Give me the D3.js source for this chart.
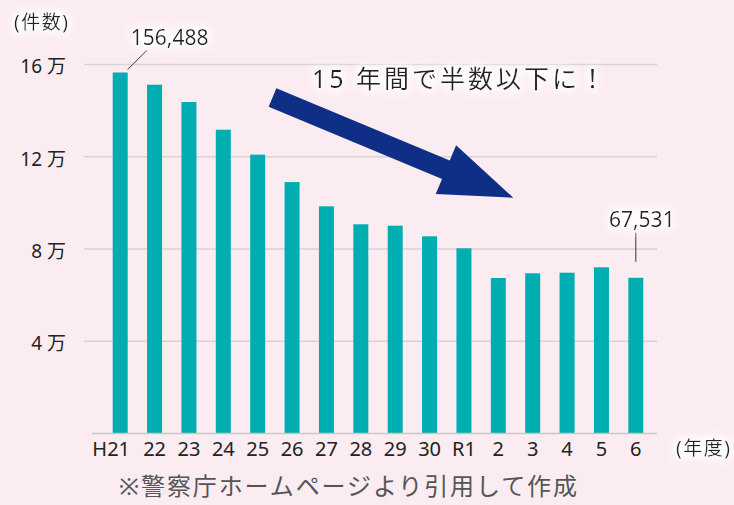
<!DOCTYPE html>
<html>
<head>
<meta charset="utf-8">
<script src="https://cdn.jsdelivr.net/npm/d3@7"></script>
<style>
  html, body { margin: 0; padding: 0; background: #fbecf1; }
  svg { display: block; font-family: "Noto Sans", "Noto Sans CJK JP", sans-serif; }
</style>
</head>
<body>
<div id="chart"></div>
<script>
// 年度と件数
const years = ['H21', '22', '23', '24', '25', '26', '27', '28', '29', '30', 'R1', '2', '3', '4', '5', '6'];
const counts = [156488, 151200, 143700, 131700, 120900, 109000, 98500, 90700, 90100, 85500, 80300, 67430, 69470, 69730, 72070, 67531];
const yTicks = [40000, 80000, 120000, 160000];

function drawChart() {
    const width = 734;
    const height = 505;

    const svg = d3.select('#chart')
        .append('svg')
        .attr('width', width)
        .attr('height', height);

    // soft white halo behind labels
    const defs = svg.append('defs');
    const halo = defs.append('filter').attr('id', 'halo')
        .attr('x', '-20%').attr('y', '-40%').attr('width', '140%').attr('height', '180%');
    halo.append('feMorphology').attr('in', 'SourceAlpha').attr('operator', 'dilate').attr('radius', 3).attr('result', 'd');
    halo.append('feGaussianBlur').attr('in', 'd').attr('stdDeviation', 4).attr('result', 'b');
    halo.append('feFlood').attr('flood-color', '#ffffff').attr('flood-opacity', 0.9);
    halo.append('feComposite').attr('in2', 'b').attr('operator', 'in').attr('result', 'w');
    const merge = halo.append('feMerge');
    merge.append('feMergeNode').attr('in', 'w');
    merge.append('feMergeNode').attr('in', 'SourceGraphic');

    svg.append('rect').attr('width', width).attr('height', height).attr('fill', '#fbecf1');

    // scales
    const x = d3.scaleBand()
        .domain(years)
        .range([103, 653])
        .paddingInner(0.5636)
        .paddingOuter(0.2818);

    const y = d3.scaleLinear()
        .domain([0, 160000])
        .range([433.6, 64.4]);

    // gridlines
    svg.append('g')
        .selectAll('line')
        .data(yTicks)
        .join('line')
        .attr('x1', 84)
        .attr('x2', 657)
        .attr('y1', d => y(d))
        .attr('y2', d => y(d))
        .attr('stroke', '#d9d1d5')
        .attr('stroke-width', 1.5);

    // bars
    svg.append('g')
        .selectAll('rect')
        .data(counts)
        .join('rect')
        .attr('x', (d, i) => x(years[i]))
        .attr('y', d => y(d))
        .attr('width', x.bandwidth())
        .attr('height', d => y(0) - y(d))
        .attr('fill', '#00aeb1');

    // baseline
    svg.append('line')
        .attr('x1', 92).attr('x2', 657)
        .attr('y1', y(0)).attr('y2', y(0))
        .attr('stroke', '#c9c6c8')
        .attr('stroke-width', 1.5);

    // y labels
    svg.append('g')
        .selectAll('text')
        .data(yTicks)
        .join('text')
        .attr('x', 66)
        .attr('y', d => y(d) + 9)
        .attr('text-anchor', 'end')
        .attr('font-size', 19)
        .attr('fill', '#222')
        .text(d => `${d / 10000} 万`);

    svg.append('text')
        .attr('x', 14).attr('y', 29)
        .attr('font-size', 19)
        .attr('letter-spacing', 1.5)
        .attr('fill', '#222')
        .attr('filter', 'url(#halo)')
        .text('(件数)');

    // x axis labels
    const xAxis = d3.axisBottom(x).tickSize(0).tickPadding(0);
    const gx = svg.append('g')
        .attr('transform', `translate(0,${y(0)})`)
        .call(xAxis);
    gx.select('.domain').remove();
    gx.selectAll('text')
        .attr('y', 22)
        .attr('dy', 0)
        .attr('dx', d => d === 'H21' ? -9 : 0)
        .attr('font-size', 20)
        .attr('font-family', '"Noto Sans", "Noto Sans CJK JP", sans-serif')
        .attr('fill', '#222');

    svg.append('text')
        .attr('x', 676).attr('y', 455)
        .attr('font-size', 19)
        .attr('letter-spacing', 1.5)
        .attr('fill', '#222')
        .attr('filter', 'url(#halo)')
        .text('(年度)');

    // value callouts
    const first = 0;
    const last = counts.length - 1;
    const fx = x(years[first]) + x.bandwidth();
    svg.append('line')
        .attr('x1', fx).attr('y1', y(counts[first]) - 3)
        .attr('x2', fx + 19).attr('y2', y(counts[first]) - 22)
        .attr('stroke', '#333').attr('stroke-width', 1);
    svg.append('text')
        .attr('x', fx + 42).attr('y', 45)
        .attr('text-anchor', 'middle')
        .attr('font-size', 21)
        .attr('fill', '#222')
        .attr('filter', 'url(#halo)')
        .text(d3.format(',')(counts[first]));

    const lx = x(years[last]) + x.bandwidth() / 2;
    svg.append('line')
        .attr('x1', lx).attr('y1', y(counts[last]) - 16)
        .attr('x2', lx).attr('y2', y(counts[last]) - 45)
        .attr('stroke', '#333').attr('stroke-width', 1);
    svg.append('text')
        .attr('x', lx + 6).attr('y', 227)
        .attr('text-anchor', 'middle')
        .attr('font-size', 21)
        .attr('fill', '#222')
        .attr('filter', 'url(#halo)')
        .text(d3.format(',')(counts[last]));

    // big arrow
    const tail = [272.5, 97.5];
    const tip = [513.3, 197.7];
    const shaftW = 20, headW = 53, headL = 73;
    const ang = Math.atan2(tip[1] - tail[1], tip[0] - tail[0]);
    const ux = Math.cos(ang), uy = Math.sin(ang);
    const nx = -uy, ny = ux;
    const hb = [tip[0] - ux * headL, tip[1] - uy * headL];
    const pt = (p, s) => [p[0] + nx * s, p[1] + ny * s];
    const arrow = [
        pt(tail, -shaftW / 2), pt(hb, -shaftW / 2), pt(hb, -headW / 2),
        tip, pt(hb, headW / 2), pt(hb, shaftW / 2), pt(tail, shaftW / 2)
    ];
    svg.append('path')
        .attr('d', d3.line()(arrow) + 'Z')
        .attr('fill', '#0e2f85');

    svg.append('text')
        .attr('x', 312).attr('y', 88)
        .attr('font-size', 25)
        .attr('letter-spacing', 3)
        .attr('fill', '#222')
        .attr('filter', 'url(#halo)')
        .text('15 年間で半数以下に！');

    // source note
    svg.append('text')
        .attr('x', 119).attr('y', 495)
        .attr('font-size', 24)
        .attr('letter-spacing', 1.9)
        .attr('fill', '#555')
        .text('※警察庁ホームページより引用して作成');
}

drawChart();
</script>
</body>
</html>
